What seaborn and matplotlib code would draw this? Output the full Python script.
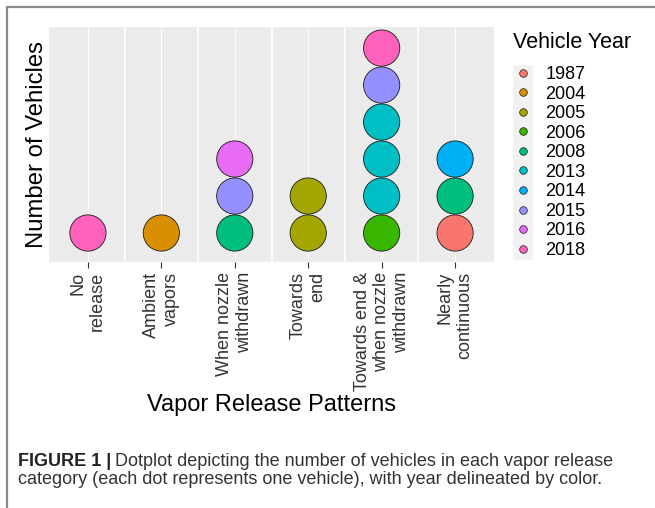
import matplotlib
matplotlib.use("Agg")
import matplotlib.pyplot as plt
from matplotlib import font_manager
from matplotlib.lines import Line2D
from matplotlib.patches import Rectangle
import seaborn as sns
import pandas as pd

# ---------------- data ----------------
categories = ["No\nrelease", "Ambient\nvapors", "When nozzle\nwithdrawn", "Towards\nend",
              "Towards end &\nwhen nozzle\nwithdrawn", "Nearly\ncontinuous"]
year_levels = ["1987", "2004", "2005", "2006", "2008", "2013", "2014", "2015", "2016", "2018"]
# one entry per vehicle (stacked bottom to top within each category)
vehicle_category = [0,
                    1,
                    2, 2, 2,
                    3, 3,
                    4, 4, 4, 4, 4, 4,
                    5, 5, 5]
vehicle_year = ["2018",
                "2004",
                "2008", "2015", "2016",
                "2005", "2005",
                "2006", "2013", "2013", "2013", "2015", "2018",
                "1987", "2008", "2014"]
palette_colors = ["#F8766D", "#D89000", "#A3A500", "#39B600", "#00BF7D",
                  "#00BFC4", "#00B0F6", "#9590FF", "#E76BF3", "#FF62BC"]

df = pd.DataFrame({"pattern": [categories[i] for i in vehicle_category],
                   "year": vehicle_year})
df["count"] = df.groupby("pattern").cumcount() + 1
df["pattern"] = pd.Categorical(df["pattern"], categories=categories, ordered=True)

# ---------------- style ----------------
sns.set_theme(style="white")
avail = {f.name for f in font_manager.fontManager.ttflist}
main_font = "Liberation Sans" if "Liberation Sans" in avail else "DejaVu Sans"
plt.rcParams["font.family"] = [main_font, "DejaVu Sans"]

W, H = 655, 508
fig = plt.figure(figsize=(W / 100, H / 100), dpi=100)
fig.patch.set_facecolor("white")

def fx(px):
    return px / W

def fy(py):
    return 1 - py / H

ax = fig.add_axes([fx(49), fy(262), fx(494) - fx(49), fy(27) - fy(262)])
ax.set_facecolor("#EBEBEB")

pal = dict(zip(year_levels, palette_colors))
sns.scatterplot(data=df, x="pattern", y="count", hue="year", hue_order=year_levels,
                palette=pal, s=680, edgecolor="#1a1a1a", linewidth=0.6,
                legend=False, ax=ax, zorder=3)

ax.set_xlim(-0.53, 5.53)
ax.set_ylim(0.216, 6.57)
ax.set_xticks(range(len(categories)))
ax.set_xticklabels(categories, rotation=90, ha="center", va="top",
                   multialignment="right", fontsize=13, color="#333333")
ax.set_yticks([])
ax.grid(False)
for i in range(len(categories)):
    ax.axvline(i, color="white", lw=0.6, zorder=1)
for i in range(len(categories) - 1):
    ax.axvline(i + 0.5, color="white", lw=1.2, zorder=1)
for sp in ax.spines.values():
    sp.set_visible(False)
ax.tick_params(axis="x", which="major", length=4, width=0.8, color="#333333", pad=3, bottom=True)
ax.set_xlabel("Vapor Release Patterns", fontsize=17, color="black", labelpad=2)
ax.set_ylabel("Number of Vehicles", fontsize=17.2, color="black", labelpad=1)

# ---------------- legend ----------------
fig.patches.append(Rectangle((fx(513), fy(260)), fx(533) - fx(513), fy(65) - fy(260),
                             transform=fig.transFigure, facecolor="#F2F2F2",
                             edgecolor="none", zorder=0))
fig.text(fx(513), fy(42), "Vehicle Year", fontsize=15.5, color="black",
         ha="left", va="center")
handles = [Line2D([0], [0], marker="o", linestyle="none", markersize=5.5,
                  markerfacecolor=c, markeredgecolor="#1a1a1a", markeredgewidth=0.5)
           for c in palette_colors]
leg = fig.legend(handles, year_levels, loc="center left",
                 bbox_to_anchor=(fx(512), fy(162.5)), frameon=False, fontsize=13,
                 handletextpad=0.65, labelspacing=0.14,
                 handlelength=1.2, borderaxespad=0, borderpad=0)
for t in leg.get_texts():
    t.set_color("black")

# ---------------- border ----------------
fig.add_artist(Line2D([fx(7), fx(7)], [fy(7), fy(510)], transform=fig.transFigure,
                      color="#8a8a8a", lw=1.6))
fig.add_artist(Line2D([fx(7), fx(660)], [fy(7), fy(7)], transform=fig.transFigure,
                      color="#8a8a8a", lw=1.6))

# ---------------- caption ----------------
fig.canvas.draw()
r = fig.canvas.get_renderer()
cap_size = 13
t1 = fig.text(fx(18), fy(461), "FIGURE 1 |", fontsize=cap_size, fontweight="bold",
              va="center", ha="left", color="#222222")
bb = t1.get_window_extent(renderer=r)
fig.text(bb.x1 / W + fx(4), fy(461), "Dotplot depicting the number of vehicles in each vapor release",
         fontsize=cap_size, va="center", ha="left", color="#333333")
fig.text(fx(18), fy(480), "category (each dot represents one vehicle), with year delineated by color.",
         fontsize=cap_size, va="center", ha="left", color="#333333")

fig.savefig("out.png", dpi=100, facecolor="white")
